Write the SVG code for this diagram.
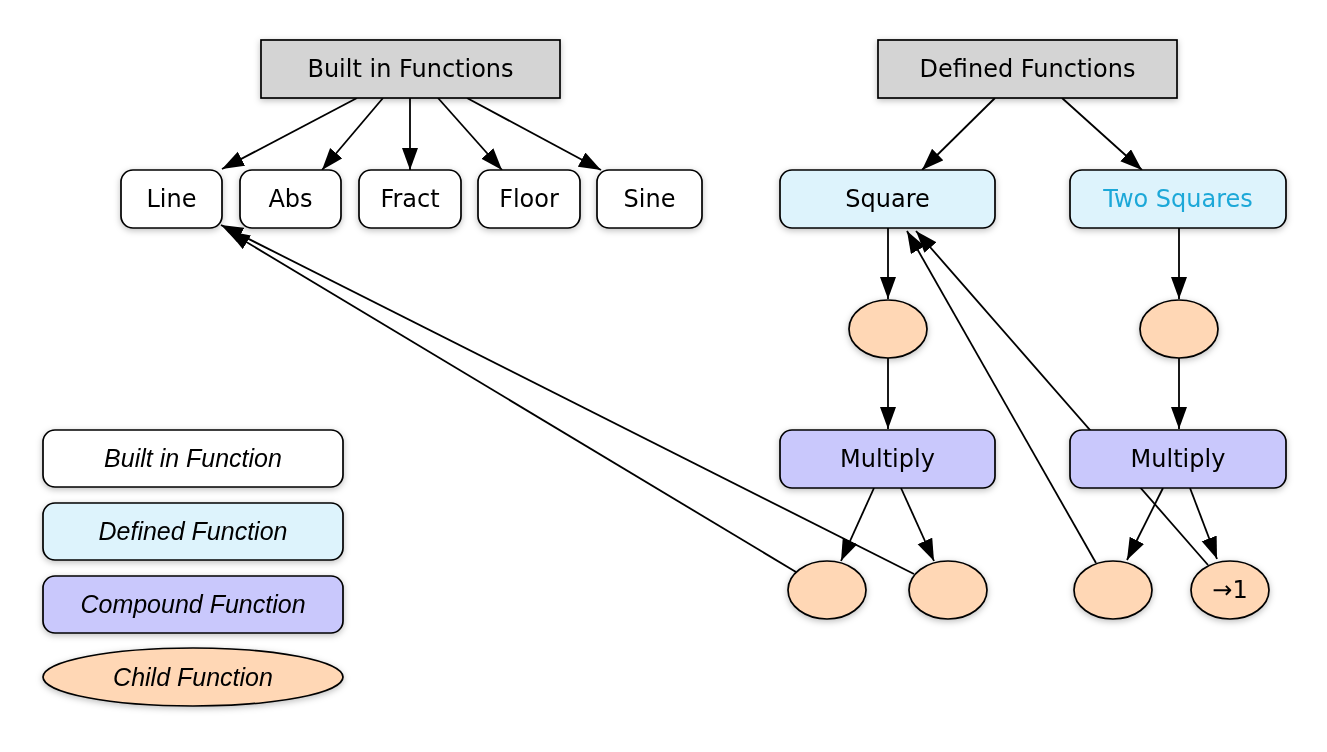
<svg xmlns="http://www.w3.org/2000/svg" width="1327" height="752" viewBox="0 0 1327 752">
<defs>
<filter id="sh" x="-20%" y="-30%" width="140%" height="170%">
<feDropShadow dx="0" dy="2" stdDeviation="3" flood-color="#000" flood-opacity="0.25"/>
</filter>
<marker id="ah" markerUnits="userSpaceOnUse" markerWidth="23" markerHeight="17" refX="22" refY="8" orient="auto">
<path d="M0,0 L22,8 L0,16 z" fill="#000"/>
</marker>
</defs>
<style>
rect, ellipse { stroke: #000; stroke-width: 1.7; }
.n { filter: url(#sh); }
.hdr { fill: #d4d4d4; }
.bi { fill: #ffffff; }
.df { fill: #ddf3fc; }
.cp { fill: #c9c8fc; }
.ch { fill: #ffd7b5; }
text { font-family: "DejaVu Sans", "Liberation Sans", sans-serif; font-size: 24px; fill: #000; text-anchor: middle; dominant-baseline: central; }
.lg { font-family: "Liberation Sans", Arial, sans-serif; font-style: italic; font-size: 25px; }
.blue { fill: #1ea8d8; }
#edges line { stroke: #000; stroke-width: 1.8; }
#edges .a { marker-end: url(#ah); }
</style>
<g id="edges">
<line class="a" x1="357" y1="98" x2="222" y2="169"/>
<line class="a" x1="383" y1="98" x2="322" y2="170"/>
<line class="a" x1="410" y1="98" x2="410" y2="170"/>
<line class="a" x1="438" y1="98" x2="502" y2="170"/>
<line class="a" x1="467" y1="98" x2="601" y2="170"/>
<line class="a" x1="995" y1="98" x2="922" y2="170"/>
<line class="a" x1="1062" y1="98" x2="1142" y2="170"/>
<line class="a" x1="888" y1="228" x2="888" y2="299"/>
<line class="a" x1="888" y1="358" x2="888" y2="429"/>
<line class="a" x1="1179" y1="228" x2="1179" y2="299"/>
<line class="a" x1="1179" y1="358" x2="1179" y2="429"/>
<line class="a" x1="874" y1="488" x2="841" y2="561"/>
<line class="a" x1="901" y1="488" x2="934" y2="561"/>
<line class="a" x1="1163" y1="488" x2="1127" y2="560"/>
<line class="a" x1="1190" y1="488" x2="1217" y2="559"/>
<line class="a" x1="796" y1="572" x2="228" y2="231"/>
<line class="a" x1="914" y1="574" x2="221" y2="225"/>
<line class="a" x1="1096" y1="563" x2="907" y2="231"/>
<line class="a" x1="1208" y1="565" x2="916" y2="231"/>
</g>
<g id="builtin-functions" class="n"><rect class="hdr" x="261" y="40" width="299" height="58"/><text x="410.5" y="69">Built in Functions</text></g>
<g id="defined-functions" class="n"><rect class="hdr" x="878" y="40" width="299" height="58"/><text x="1027.5" y="69">Defined Functions</text></g>
<g id="line" class="n"><rect class="bi" x="121" y="170" width="101" height="58" rx="12"/><text x="171.5" y="199">Line</text></g>
<g id="abs" class="n"><rect class="bi" x="240" y="170" width="101" height="58" rx="12"/><text x="290.5" y="199">Abs</text></g>
<g id="fract" class="n"><rect class="bi" x="359" y="170" width="102" height="58" rx="12"/><text x="410" y="199">Fract</text></g>
<g id="floor" class="n"><rect class="bi" x="478" y="170" width="102" height="58" rx="12"/><text x="529" y="199">Floor</text></g>
<g id="sine" class="n"><rect class="bi" x="597" y="170" width="105" height="58" rx="12"/><text x="649.5" y="199">Sine</text></g>
<g id="square" class="n"><rect class="df" x="780" y="170" width="215" height="58" rx="12"/><text x="887.5" y="199">Square</text></g>
<g id="two-squares" class="n"><rect class="df" x="1070" y="170" width="216" height="58" rx="12"/><text class="blue" x="1178" y="199">Two Squares</text></g>
<g id="square-child" class="n"><ellipse class="ch" cx="888" cy="329" rx="39" ry="29"/></g>
<g id="two-squares-child" class="n"><ellipse class="ch" cx="1179" cy="329" rx="39" ry="29"/></g>
<g id="multiply-1" class="n"><rect class="cp" x="780" y="430" width="215" height="58" rx="12"/><text x="887.5" y="459">Multiply</text></g>
<g id="multiply-2" class="n"><rect class="cp" x="1070" y="430" width="216" height="58" rx="12"/><text x="1178" y="459">Multiply</text></g>
<g id="child-1" class="n"><ellipse class="ch" cx="827" cy="590" rx="39" ry="29"/></g>
<g id="child-2" class="n"><ellipse class="ch" cx="948" cy="590" rx="39" ry="29"/></g>
<g id="child-3" class="n"><ellipse class="ch" cx="1113" cy="590" rx="39" ry="29"/></g>
<g id="child-4" class="n"><ellipse class="ch" cx="1230" cy="590" rx="39" ry="29"/><text x="1230" y="590">→1</text></g>
<g id="legend-builtin" class="n"><rect class="bi" x="43" y="430" width="300" height="57" rx="12"/><text class="lg" x="193" y="458">Built in Function</text></g>
<g id="legend-defined" class="n"><rect class="df" x="43" y="503" width="300" height="57" rx="12"/><text class="lg" x="193" y="531">Defined Function</text></g>
<g id="legend-compound" class="n"><rect class="cp" x="43" y="576" width="300" height="57" rx="12"/><text class="lg" x="193" y="604">Compound Function</text></g>
<g id="legend-child" class="n"><ellipse class="ch" cx="193" cy="677" rx="150" ry="29"/><text class="lg" x="193" y="677">Child Function</text></g>
</svg>
